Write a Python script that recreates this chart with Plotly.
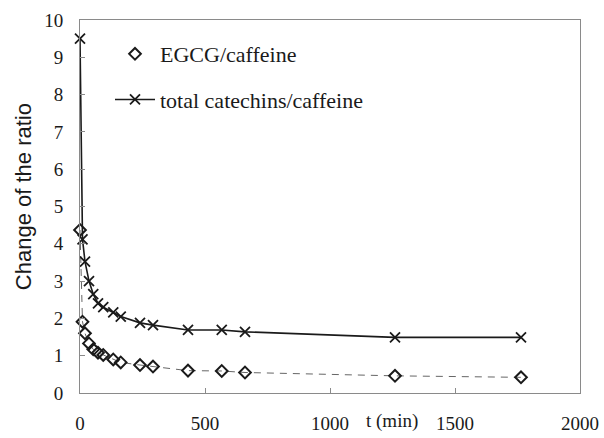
import plotly.graph_objects as go

# Sampling times (min)
t_total = [0, 10, 20, 36, 53, 72, 93, 133, 163, 240, 292, 432, 567, 660, 1260, 1764]
t_egcg = [0, 10, 20, 36, 53, 72, 93, 133, 163, 240, 292, 432, 567, 660, 1260, 1764]

# Ratios
total_catechins_ratio = [9.5, 4.12, 3.52, 3.0, 2.65, 2.4, 2.3, 2.16, 2.05, 1.88, 1.82,
                         1.69, 1.69, 1.64, 1.49, 1.49]
egcg_ratio = [4.37, 1.91, 1.6, 1.33, 1.17, 1.08, 1.02, 0.9, 0.82, 0.75, 0.71,
              0.6, 0.59, 0.55, 0.46, 0.42]

x_ticks = [0, 500, 1000, 1500, 2000]
y_ticks = list(range(0, 11))

serif = "Liberation Serif, Times New Roman, serif"
sans = "Liberation Sans, Arial, sans-serif"
ink = "#1a1a1a"
axis_grey = "#8a8a8a"

fig = go.Figure()

# EGCG/caffeine: dashed line with open diamonds
fig.add_trace(go.Scatter(
    x=t_egcg, y=egcg_ratio, mode="lines+markers",
    line=dict(color="#666666", width=1, dash="7px,6px"),
    marker=dict(symbol="diamond-open", size=9, color=ink, line=dict(width=2)),
    showlegend=False, cliponaxis=False,
))
# total catechins/caffeine: solid line with crosses
fig.add_trace(go.Scatter(
    x=t_total, y=total_catechins_ratio, mode="lines+markers",
    line=dict(color=ink, width=1.6),
    marker=dict(symbol="x-thin", size=10, color=ink, line=dict(width=1.8, color=ink)),
    showlegend=False, cliponaxis=False,
))

# Legend entries
fig.add_trace(go.Scatter(
    x=[None], y=[None], mode="markers", name="EGCG/caffeine",
    marker=dict(symbol="diamond-open", size=9, color=ink, line=dict(width=2)),
    legendgroup="a",
))
fig.add_trace(go.Scatter(
    x=[None], y=[None], mode="lines+markers", name="total catechins/caffeine",
    line=dict(color=ink, width=1.6),
    marker=dict(symbol="x-thin", size=10, color=ink, line=dict(width=1.8, color=ink)),
    legendgroup="b",
))

fig.update_layout(
    width=604, height=438,
    margin=dict(l=80, r=24, t=20, b=45),
    plot_bgcolor="white", paper_bgcolor="white",
    showlegend=True,
    legend=dict(
        x=0.06, y=0.965, xanchor="left", yanchor="top",
        bgcolor="rgba(0,0,0,0)", borderwidth=0,
        font=dict(family=serif, size=22, color=ink),
        traceorder="grouped", tracegroupgap=14, itemwidth=40,
    ),
    xaxis=dict(
        range=[0, 2000], tickvals=x_ticks, ticktext=[str(v) for v in x_ticks],
        showline=True, linecolor=axis_grey, linewidth=1, mirror=True,
        ticks="inside", ticklen=5, tickcolor=axis_grey,
        showgrid=False, zeroline=False, automargin=False,
        tickfont=dict(family=serif, size=19, color=ink),
        ticklabelstandoff=13,
    ),
    yaxis=dict(
        range=[0, 10], tickvals=y_ticks, ticktext=[str(v) for v in y_ticks],
        showline=True, linecolor=axis_grey, linewidth=1, mirror=True,
        ticks="inside", ticklen=5, tickcolor=axis_grey,
        showgrid=False, zeroline=False, automargin=False,
        tickfont=dict(family=serif, size=19, color=ink),
        ticklabelstandoff=12,
    ),
    annotations=[
        dict(text="Change of the ratio", textangle=-90,
             xref="paper", yref="paper", x=-0.114, y=0.525,
             xanchor="center", yanchor="middle", showarrow=False,
             font=dict(family=sans, size=22, color=ink)),
        dict(text="t (min)", xref="x", yref="paper", x=1248, y=0,
             xanchor="center", yanchor="top", yshift=-15, showarrow=False,
             font=dict(family=serif, size=19, color=ink)),
    ],
)

fig.write_html("out.html")
